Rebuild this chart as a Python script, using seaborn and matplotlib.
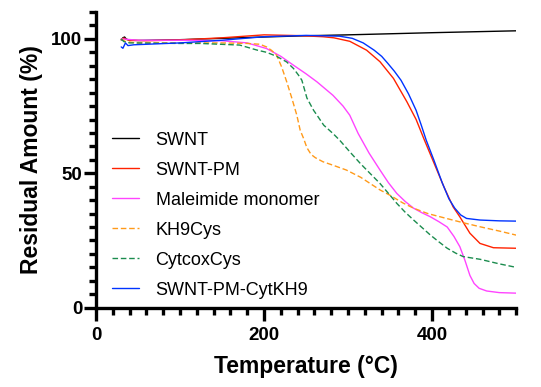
import matplotlib
matplotlib.use('Agg')
import matplotlib.pyplot as plt
from matplotlib.ticker import MultipleLocator
import pandas as pd
import seaborn as sns

# Temperature (C) / residual amount (%)
swnt_t = [30, 32, 34, 36, 40, 50, 100, 150, 200, 243, 300, 400, 500]
swnt_y = [99.6, 100.4, 100.7, 99.9, 99.5, 99.4, 99.7, 100.2, 100.7, 101.1, 101.5, 102.3, 103.0]

pm_t = [30, 33, 36, 40, 60, 100, 150, 200, 243, 270, 283, 302, 322, 338, 354, 370, 381,
        390, 398, 406, 414, 425, 433, 445, 457, 473, 500]
pm_y = [99.8, 100.3, 99.8, 99.5, 99.3, 99.6, 100.4, 101.5, 101.2, 100.8, 100.4, 99.1, 95.8,
        91.5, 85.3, 76.6, 70.0, 63.0, 57.0, 51.0, 45.0, 37.5, 33.8, 27.7, 23.9, 22.3, 22.1]

mal_t = [30, 50, 100, 150, 180, 203, 220, 235, 250, 263, 282, 294, 302, 312, 325, 338, 348,
         358, 368, 378, 388, 398, 408, 418, 426, 433, 439, 445, 450, 456, 465, 480, 500]
mal_y = [100.0, 99.5, 99.5, 99.3, 98.5, 96.4, 93.5, 90.2, 87.0, 84.0, 79.0, 75.0, 71.6, 64.8,
         57.5, 51.2, 46.5, 42.5, 39.5, 37.0, 35.3, 33.8, 32.0, 30.0, 26.5, 22.7, 17.7, 12.0,
         9.0, 7.2, 6.2, 5.6, 5.4]

kh9_t = [30, 35, 50, 100, 150, 180, 195, 203, 209, 215, 221, 227, 233, 239, 243, 247, 251,
         256, 261, 270, 282, 298, 315, 338, 350, 365, 378, 395, 417, 437, 457, 480, 500]
kh9_y = [100.0, 99.0, 98.5, 98.5, 98.5, 98.3, 98.0, 97.0, 95.7, 93.9, 89.5, 84.0, 78.0, 71.6,
         66.0, 63.0, 59.5, 57.0, 55.8, 54.3, 53.0, 51.2, 48.5, 43.8, 41.8, 39.0, 37.0, 35.0,
         33.2, 31.6, 30.1, 28.5, 27.0]

cyt_t = [30, 33, 40, 100, 124, 171, 192, 203, 215, 227, 235, 241, 245, 251, 259, 263, 271,
         282, 290, 302, 315, 326, 338, 350, 358, 368, 378, 388, 398, 408, 418, 428, 437, 457,
         480, 500]
cyt_y = [100.0, 99.0, 98.5, 98.3, 98.3, 97.7, 95.8, 95.0, 93.5, 91.4, 89.0, 86.5, 84.6, 78.0,
         73.4, 71.6, 67.9, 64.8, 62.3, 58.0, 53.5, 50.0, 46.2, 41.8, 38.8, 35.5, 32.6, 29.8,
         27.0, 24.5, 22.1, 20.3, 19.0, 18.0, 16.3, 15.0]

cytkh9_t = [30, 32, 35, 38, 45, 100, 150, 200, 250, 290, 305, 318, 331, 340, 347, 355, 363,
            372, 381, 387, 393, 402, 412, 420, 427, 434, 441, 457, 480, 500]
cytkh9_y = [97.0, 96.5, 98.5, 97.5, 97.8, 98.5, 99.5, 100.8, 101.3, 101.0, 100.2, 98.5, 95.8,
            93.5, 91.0, 88.0, 84.6, 79.5, 73.4, 68.0, 62.3, 55.0, 46.5, 40.5, 37.0, 34.5, 33.2,
            32.6, 32.3, 32.2]

labels = ['SWNT', 'SWNT-PM', 'Maleimide monomer', 'KH9Cys', 'CytcoxCys', 'SWNT-PM-CytKH9']
colors = ['black', '#FF2200', '#FF44FF', '#FF9A1A', '#1B8C4E', '#0033FF']
dashed = [False, False, False, True, True, False]
series = [(swnt_t, swnt_y), (pm_t, pm_y), (mal_t, mal_y), (kh9_t, kh9_y),
          (cyt_t, cyt_y), (cytkh9_t, cytkh9_y)]

sns.set_style('ticks')
plt.rcParams['font.family'] = ['Liberation Sans', 'DejaVu Sans']
plt.rcParams['text.color'] = 'black'
plt.rcParams['axes.labelcolor'] = 'black'
plt.rcParams['xtick.color'] = 'black'
plt.rcParams['ytick.color'] = 'black'

fig = plt.figure(figsize=(5.41, 3.87), dpi=100)
ax = fig.add_axes([0.1775, 0.205, 0.7765, 0.764])

for (t, y), lab, col, dsh in zip(series, labels, colors, dashed):
    df = pd.DataFrame({'T': t, 'Y': y})
    sns.lineplot(data=df, x='T', y='Y', ax=ax, color=col, label=lab,
                 linewidth=1.0, estimator=None, sort=False)
    if dsh:
        ax.lines[-1].set_dashes([4, 2])

ax.set_xlim(0, 500)
ax.set_ylim(0, 110)
ax.xaxis.set_major_locator(MultipleLocator(200))
ax.xaxis.set_minor_locator(MultipleLocator(20))
ax.yaxis.set_major_locator(MultipleLocator(50))
ax.yaxis.set_minor_locator(MultipleLocator(5))

for s in ['top', 'right']:
    ax.spines[s].set_visible(False)
for s in ['left', 'bottom']:
    ax.spines[s].set_linewidth(2.4)
    ax.spines[s].set_color('black')

ax.tick_params(which='major', length=9, width=2.4, color='black')
ax.tick_params(which='minor', length=5, width=2.4, color='black')
ax.tick_params(axis='x', pad=5)
ax.tick_params(axis='y', pad=1)
for lbl in ax.get_xticklabels() + ax.get_yticklabels():
    lbl.set_fontsize(13.5)
    lbl.set_fontweight('bold')

ax.set_xlabel('Temperature (°C)', fontsize=16.5, fontweight='bold', labelpad=8)
ax.set_ylabel('Residual Amount (%)', fontsize=16.5, fontweight='bold', labelpad=6)

leg = ax.legend(loc='lower left', bbox_to_anchor=(0.0, -0.025), frameon=False,
                fontsize=13, handlelength=1.5, handletextpad=0.9, labelspacing=0.72)

fig.savefig('out.png', dpi=100)
